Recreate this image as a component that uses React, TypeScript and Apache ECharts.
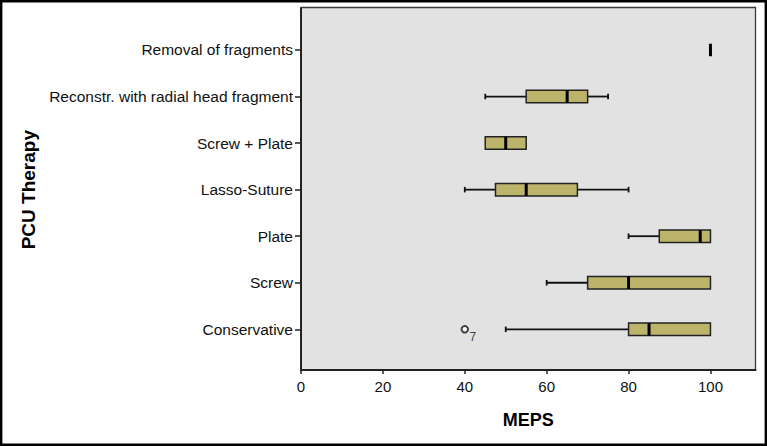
import React, { useEffect, useRef } from "react";
import * as echarts from "echarts";

const categories = [
  "Conservative",
  "Screw",
  "Plate",
  "Lasso-Suture",
  "Screw + Plate",
  "Reconstr. with radial head fragment",
  "Removal of fragments",
];
const lowWhisker = [50, 60, 80, 40, 45, 45, 100];
const q1 = [80, 70, 87.5, 47.5, 45, 55, 100];
const median = [85, 80, 97.5, 55, 50, 65, 100];
const q3 = [100, 100, 100, 67.5, 55, 70, 100];
const highWhisker = [100, 100, 100, 80, 55, 75, 100];

const outlierCategory = "Conservative";
const outlierValues = [40];
const outlierCases = ["7"];

const xTicks = [0, 20, 40, 60, 80, 100];

const FONT = "'Liberation Sans', Arial, sans-serif";

export default function App() {
  const ref = useRef<HTMLDivElement>(null);

  useEffect(() => {
    if (!ref.current) return;
    const chart = echarts.init(ref.current, undefined, { renderer: "svg" });

    const boxData = categories.map((_, i) => [
      i,
      lowWhisker[i],
      q1[i],
      median[i],
      q3[i],
      highWhisker[i],
    ]);
    const oIdx = categories.indexOf(outlierCategory);
    const outlierData = outlierValues.map((v, k) => ({
      value: [v, oIdx],
      caseId: outlierCases[k],
    }));

    const plotLeft = 301;
    const plotRight = 755.5;
    const plotTop = 7.5;
    const plotBottom = 370;
    const gridTop = 26.7;
    const gridHeight = 325.9;

    const renderItem = (params: any, api: any) => {
      const ci = api.value(0);
      const xs = [1, 2, 3, 4, 5].map((d) => api.coord([api.value(d), ci])[0]);
      const y = api.coord([0, ci])[1];
      const [xl, xq1, xm, xq3, xh] = xs;
      const bh = 12.5;
      const cap = 5.5;
      const lineStyle = { stroke: "#111", lineWidth: 1.8 };
      const children: any[] = [];
      if (xq1 - xl > 0.5) {
        children.push({ type: "line", shape: { x1: xl, y1: y, x2: xq1, y2: y }, style: lineStyle });
        children.push({ type: "line", shape: { x1: xl, y1: y - cap / 2, x2: xl, y2: y + cap / 2 }, style: lineStyle });
      }
      if (xh - xq3 > 0.5) {
        children.push({ type: "line", shape: { x1: xq3, y1: y, x2: xh, y2: y }, style: lineStyle });
        children.push({ type: "line", shape: { x1: xh, y1: y - cap / 2, x2: xh, y2: y + cap / 2 }, style: lineStyle });
      }
      if (xq3 - xq1 > 0.5) {
        children.push({
          type: "rect",
          shape: { x: xq1, y: y - bh / 2, width: xq3 - xq1, height: bh },
          style: { fill: "#bdb46c", stroke: "#222", lineWidth: 1.5 },
        });
      }
      children.push({
        type: "line",
        shape: { x1: xm, y1: y - bh / 2, x2: xm, y2: y + bh / 2 },
        style: { stroke: "#000", lineWidth: 3 },
      });
      return { type: "group", children };
    };

    chart.setOption({
      animation: false,
      textStyle: { fontFamily: FONT },
      grid: {
        left: plotLeft,
        width: plotRight - plotLeft,
        top: gridTop,
        height: gridHeight,
        containLabel: false,
      },
      xAxis: {
        type: "value",
        min: 0,
        max: 111,
        interval: 20,
        position: "bottom",
        offset: plotBottom - (gridTop + gridHeight),
        splitLine: { show: false },
        axisLine: { show: true, lineStyle: { color: "#222", width: 2 } },
        axisTick: {
          show: true,
          length: 4,
          customValues: xTicks,
          lineStyle: { color: "#222", width: 1.5 },
        },
        axisLabel: {
          customValues: xTicks,
          fontSize: 15,
          color: "#111",
          margin: 9,
          fontFamily: FONT,
        },
        name: "MEPS",
        nameLocation: "middle",
        nameGap: 41,
        nameTextStyle: { fontSize: 18, fontWeight: "bold", color: "#000", fontFamily: FONT },
      },
      yAxis: {
        type: "category",
        data: categories,
        boundaryGap: true,
        axisLine: { show: false },
        axisTick: {
          show: true,
          alignWithLabel: true,
          length: 6,
          lineStyle: { color: "#222", width: 1.5 },
        },
        axisLabel: {
          fontSize: 15.5,
          color: "#111",
          margin: 8,
          fontFamily: FONT,
        },
        splitLine: { show: false },
        name: "PCU Therapy",
        nameLocation: "middle",
        nameGap: 263,
        nameTextStyle: { fontSize: 19, fontWeight: "bold", color: "#000", fontFamily: FONT },
      },
      graphic: [
        {
          type: "rect",
          z: -10,
          shape: { x: plotLeft, y: plotTop, width: plotRight - plotLeft, height: plotBottom - plotTop },
          style: { fill: "#e2e2e2", stroke: "#3a3a3a", lineWidth: 1.3 },
        },
        {
          type: "line",
          z: 10,
          shape: { x1: plotLeft, y1: plotTop, x2: plotLeft, y2: plotBottom + 1 },
          style: { stroke: "#222", lineWidth: 2 },
        },
        {
          type: "rect",
          z: 10,
          shape: { x: 1.2, y: 1.2, width: 764.6, height: 443.6 },
          style: { fill: "none", stroke: "#000", lineWidth: 2.4 },
        },
      ],
      series: [
        {
          type: "custom",
          name: "MEPS",
          renderItem,
          encode: { x: [1, 2, 3, 4, 5], y: 0 },
          data: boxData,
          z: 5,
        },
        {
          type: "scatter",
          name: "Outliers",
          symbol: "emptyCircle",
          symbolSize: 6.5,
          itemStyle: { color: "#111", borderColor: "#111", borderWidth: 1.4 },
          data: outlierData,
          z: 6,
          label: {
            show: true,
            position: [9, 5.5],
            formatter: (p: any) => p.data.caseId,
            fontSize: 12,
            color: "#111",
            fontFamily: FONT,
          },
        },
      ],
    });

    return () => chart.dispose();
  }, []);

  return (
    <div
      ref={ref}
      style={{ position: "fixed", left: 0, top: 0, width: 767, height: 446, background: "#fff" }}
    />
  );
}
